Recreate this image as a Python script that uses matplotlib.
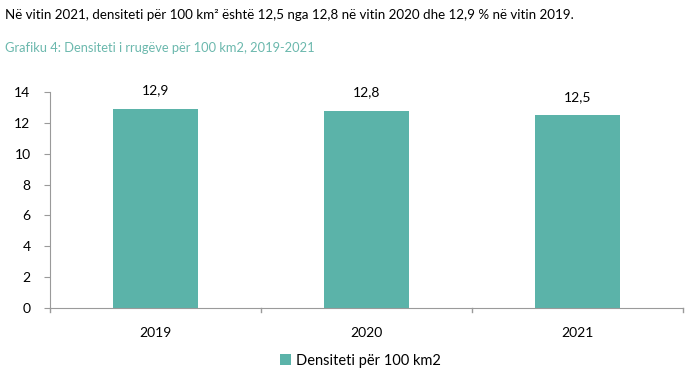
import matplotlib.pyplot as plt
import numpy as np

years = ['2019', '2020', '2021']
density = [12.9, 12.8, 12.5]
value_labels = ['12,9', '12,8', '12,5']
y_ticks = [0, 2, 4, 6, 8, 10, 12, 14]

bar_color = '#5bb3a9'
axis_color = '#9a9a9a'

plt.rcParams['font.family'] = ['Lato', 'DejaVu Sans']

fig = plt.figure(figsize=(6.92, 3.75), dpi=100)
ax = fig.add_axes([50 / 692, 1 - 308 / 375, 633 / 692, 216 / 375])

x = np.arange(len(years))
ax.bar(x, density, width=0.4, color=bar_color, label='Densiteti për 100 km2')
for xi, v, lab in zip(x, density, value_labels):
    ax.text(xi, v + 0.8, lab, ha='center', va='bottom', fontsize=10)

ax.set_xlim(-0.5, len(years) - 0.5)
ax.set_ylim(0, 14)
ax.set_yticks(y_ticks)
ax.set_yticklabels([str(t) for t in y_ticks], fontsize=10)
ax.set_xticks(x)
ax.set_xticklabels(years, fontsize=10)
ax.tick_params(axis='x', length=0, pad=14)
ax.tick_params(axis='y', length=4, color=axis_color, pad=10)
# category boundary ticks on the x axis
for b in np.arange(-0.5, len(years), 1.0):
    ax.plot([b, b], [0, -0.25], color=axis_color, lw=1, clip_on=False)

for s in ['top', 'right']:
    ax.spines[s].set_visible(False)
for s in ['left', 'bottom']:
    ax.spines[s].set_color(axis_color)

ax.legend(loc='upper center', bbox_to_anchor=(0.49, -0.15), frameon=False,
          fontsize=10.5, handlelength=0.8, handleheight=0.8, handletextpad=0.3)

fig.text(5 / 692, 1 - 15 / 375,
         'Në vitin 2021, densiteti për 100 km² është 12,5 nga 12,8 në vitin 2020 dhe 12,9 % në vitin 2019.',
         fontsize=9.6, va='center', ha='left')
fig.text(5 / 692, 1 - 48 / 375, 'Grafiku 4: Densiteti i rrugëve për 100 km2, 2019-2021',
         fontsize=9.3, va='center', ha='left', color='#6bb8ad')

fig.savefig('out.png', dpi=100)
